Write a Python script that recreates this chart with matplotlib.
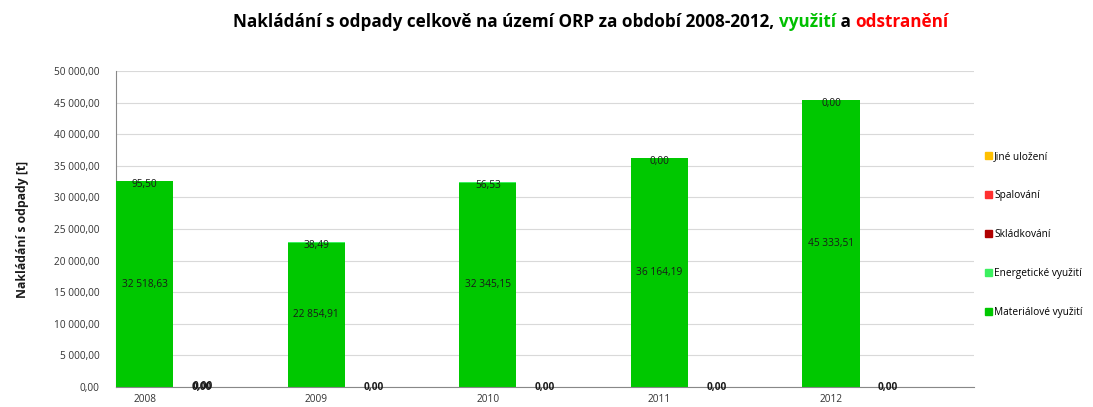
"""Nakládání s odpady na území ORP 2008-2012 - skládaný sloupcový graf"""
import matplotlib
matplotlib.use("Agg")
import matplotlib.pyplot as plt
from matplotlib.patches import Patch
from matplotlib.ticker import FuncFormatter, MultipleLocator

years = ["2008", "2009", "2010", "2011", "2012"]

# využití
materialove = [32518.63, 22854.91, 32345.15, 36164.19, 45333.51]
energeticke = [95.50, 38.49, 56.53, 0.00, 0.00]

# odstranění
skladkovani = [0.00, 0.00, 0.00, 0.00, 0.00]
spalovani = [0.00, 0.00, 0.00, 0.00, 0.00]
jine_ulozeni = [0.00, 0.00, 0.00, 0.00, 0.00]

C_MAT = "#00c800"
C_ENE = "#3cf060"
C_SKL = "#b00000"
C_SPA = "#ff3030"
C_JIN = "#ffc000"

plt.rcParams["font.family"] = ["Open Sans", "DejaVu Sans"]


def cz(v):
    """Formát čísla po česku: 32 518,63"""
    return f"{v:,.2f}".replace(",", " ").replace(".", ",")


fig = plt.figure(figsize=(10.93, 4.07), dpi=100)
ax = fig.add_axes([0.1061, 0.0491, 0.7850, 0.7765])

w = 1 / 3
x_vyu = [i for i in range(len(years))]
x_ods = [i + w for i in range(len(years))]

# sloupce využití
ax.bar(x_vyu, materialove, width=w, align="edge", color=C_MAT, zorder=3)
ax.bar(x_vyu, energeticke, width=w, align="edge", bottom=materialove,
       color=C_ENE, zorder=3)

# sloupce odstranění
ax.bar(x_ods, skladkovani, width=w, align="edge", color=C_SKL, zorder=3)
b2 = [a + b for a, b in zip(skladkovani, spalovani)]
ax.bar(x_ods, spalovani, width=w, align="edge", bottom=skladkovani,
       color=C_SPA, zorder=3)
ax.bar(x_ods, jine_ulozeni, width=w, align="edge", bottom=b2,
       color=C_JIN, zorder=3)

# popisky hodnot
for i in range(len(years)):
    xc = x_vyu[i] + w / 2
    ax.text(xc, materialove[i] / 2, cz(materialove[i]), ha="center",
            va="center", fontsize=7.3, color="#1a1a1a", zorder=5)
    ax.text(xc, materialove[i] + energeticke[i] / 2 - 450, cz(energeticke[i]),
            ha="center", va="center", fontsize=7.3, color="#1a1a1a", zorder=5)
    xo = x_ods[i] + w / 2
    total = skladkovani[i] + spalovani[i] + jine_ulozeni[i]
    ax.text(xo, total, cz(total), ha="center", va="center", fontsize=7.3,
            fontweight="bold", color="#1a1a1a", zorder=5)
    if i == 0:
        # v roce 2008 se dva popisky překrývají
        ax.text(xo + 0.005, total + 150, cz(total), ha="center", va="center",
                fontsize=7.3, fontweight="bold", color="#1a1a1a", zorder=5)

ax.set_xlim(0, len(years))
ax.set_ylim(0, 50000)
ax.yaxis.set_major_locator(MultipleLocator(5000))
ax.yaxis.set_major_formatter(FuncFormatter(lambda v, p: cz(v)))
ax.set_xticks([x + w / 2 for x in x_vyu])
ax.set_xticklabels(years)
ax.tick_params(axis="both", length=0, labelsize=7.3, colors="#333333")
ax.tick_params(axis="y", pad=12)
ax.tick_params(axis="x", pad=5)
ax.grid(axis="y", color="#d9d9d9", linewidth=0.8, zorder=0)
for s in ["top", "right"]:
    ax.spines[s].set_visible(False)
ax.spines["left"].set_color("#888888")
ax.spines["bottom"].set_color("#888888")
ax.spines["bottom"].set_zorder(4)

ax.set_ylabel("Nakládání s odpady [t]", fontsize=8.8, fontweight="bold",
              color="#1a1a1a", labelpad=18)

handles = [
    Patch(color=C_JIN, label="Jiné uložení"),
    Patch(color=C_SPA, label="Spalování"),
    Patch(color=C_SKL, label="Skládkování"),
    Patch(color=C_ENE, label="Energetické využití"),
    Patch(color=C_MAT, label="Materiálové využití"),
]
ax.legend(handles=handles, loc="center left", bbox_to_anchor=(1.008, 0.483),
          frameon=False, fontsize=7.3, handlelength=0.7, handleheight=0.7,
          handletextpad=0.2, labelspacing=2.75, borderaxespad=0)

# nadpis s barevnými slovy
parts = [
    ("Nakládání s odpady celkově na území ORP za období 2008-2012, ", "#000000"),
    ("využití", "#00c000"),
    (" a ", "#000000"),
    ("odstranění", "#ff0000"),
]
renderer = fig.canvas.get_renderer()
title_font = ["Liberation Sans Narrow", "Open Sans", "DejaVu Sans"]
size = 12.3
x0 = 233
for txt, col in parts:
    t = fig.text(x0 / 1093, 1 - 27 / 407, txt, color=col, fontsize=size,
                 fontweight="bold", family=title_font, va="baseline")
    x0 = t.get_window_extent(renderer).x1

fig.savefig("out.png", dpi=100, facecolor="white")
